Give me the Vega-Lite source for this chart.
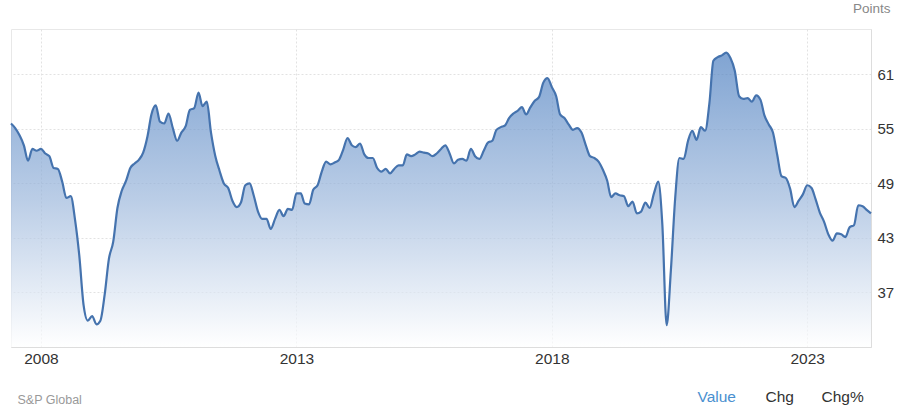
{
  "$schema": "https://vega.github.io/schema/vega-lite/v6.json",
  "width": 860,
  "height": 318,
  "autosize": "none",
  "padding": {"left": 11, "top": 29, "right": 29, "bottom": 64},
  "background": "white",
  "config": {
    "font": "Liberation Sans",
    "view": {"stroke": "#e8e8e8", "strokeWidth": 1}
  },
  "datasets": {
    "pmi": [
      {"date": "2007-06-01", "value": 55.6}, {"date": "2007-07-01", "value": 55.1}, {"date": "2007-08-01", "value": 54.3}, {"date": "2007-09-01", "value": 53.2}, {"date": "2007-10-01", "value": 51.5}, {"date": "2007-11-01", "value": 52.8}, {"date": "2007-12-01", "value": 52.6},
      {"date": "2008-01-01", "value": 52.8}, {"date": "2008-02-01", "value": 52.3}, {"date": "2008-03-01", "value": 52.0}, {"date": "2008-04-01", "value": 50.7}, {"date": "2008-05-01", "value": 50.6}, {"date": "2008-06-01", "value": 49.2}, {"date": "2008-07-01", "value": 47.4}, {"date": "2008-08-01", "value": 47.6}, {"date": "2008-09-01", "value": 45.0}, {"date": "2008-10-01", "value": 41.1}, {"date": "2008-11-01", "value": 35.6}, {"date": "2008-12-01", "value": 33.9},
      {"date": "2009-01-01", "value": 34.4}, {"date": "2009-02-01", "value": 33.5}, {"date": "2009-03-01", "value": 33.9}, {"date": "2009-04-01", "value": 36.8}, {"date": "2009-05-01", "value": 40.7}, {"date": "2009-06-01", "value": 42.6}, {"date": "2009-07-01", "value": 46.3}, {"date": "2009-08-01", "value": 48.2}, {"date": "2009-09-01", "value": 49.3}, {"date": "2009-10-01", "value": 50.7}, {"date": "2009-11-01", "value": 51.2}, {"date": "2009-12-01", "value": 51.6},
      {"date": "2010-01-01", "value": 52.4}, {"date": "2010-02-01", "value": 54.2}, {"date": "2010-03-01", "value": 56.6}, {"date": "2010-04-01", "value": 57.6}, {"date": "2010-05-01", "value": 55.8}, {"date": "2010-06-01", "value": 55.6}, {"date": "2010-07-01", "value": 56.7}, {"date": "2010-08-01", "value": 55.1}, {"date": "2010-09-01", "value": 53.7}, {"date": "2010-10-01", "value": 54.6}, {"date": "2010-11-01", "value": 55.3}, {"date": "2010-12-01", "value": 57.1},
      {"date": "2011-01-01", "value": 57.3}, {"date": "2011-02-01", "value": 59.0}, {"date": "2011-03-01", "value": 57.5}, {"date": "2011-04-01", "value": 58.0}, {"date": "2011-05-01", "value": 54.6}, {"date": "2011-06-01", "value": 52.0}, {"date": "2011-07-01", "value": 50.4}, {"date": "2011-08-01", "value": 49.0}, {"date": "2011-09-01", "value": 48.5}, {"date": "2011-10-01", "value": 47.1}, {"date": "2011-11-01", "value": 46.4}, {"date": "2011-12-01", "value": 46.9},
      {"date": "2012-01-01", "value": 48.8}, {"date": "2012-02-01", "value": 49.0}, {"date": "2012-03-01", "value": 47.7}, {"date": "2012-04-01", "value": 45.9}, {"date": "2012-05-01", "value": 45.1}, {"date": "2012-06-01", "value": 45.1}, {"date": "2012-07-01", "value": 44.0}, {"date": "2012-08-01", "value": 45.1}, {"date": "2012-09-01", "value": 46.1}, {"date": "2012-10-01", "value": 45.4}, {"date": "2012-11-01", "value": 46.2}, {"date": "2012-12-01", "value": 46.1},
      {"date": "2013-01-01", "value": 47.9}, {"date": "2013-02-01", "value": 47.9}, {"date": "2013-03-01", "value": 46.8}, {"date": "2013-04-01", "value": 46.7}, {"date": "2013-05-01", "value": 48.3}, {"date": "2013-06-01", "value": 48.8}, {"date": "2013-07-01", "value": 50.3}, {"date": "2013-08-01", "value": 51.4}, {"date": "2013-09-01", "value": 51.1}, {"date": "2013-10-01", "value": 51.3}, {"date": "2013-11-01", "value": 51.6}, {"date": "2013-12-01", "value": 52.7},
      {"date": "2014-01-01", "value": 54.0}, {"date": "2014-02-01", "value": 53.2}, {"date": "2014-03-01", "value": 53.0}, {"date": "2014-04-01", "value": 53.4}, {"date": "2014-05-01", "value": 52.2}, {"date": "2014-06-01", "value": 51.8}, {"date": "2014-07-01", "value": 51.8}, {"date": "2014-08-01", "value": 50.7}, {"date": "2014-09-01", "value": 50.3}, {"date": "2014-10-01", "value": 50.6}, {"date": "2014-11-01", "value": 50.1}, {"date": "2014-12-01", "value": 50.6},
      {"date": "2015-01-01", "value": 51.0}, {"date": "2015-02-01", "value": 51.0}, {"date": "2015-03-01", "value": 52.2}, {"date": "2015-04-01", "value": 52.0}, {"date": "2015-05-01", "value": 52.2}, {"date": "2015-06-01", "value": 52.5}, {"date": "2015-07-01", "value": 52.4}, {"date": "2015-08-01", "value": 52.3}, {"date": "2015-09-01", "value": 52.0}, {"date": "2015-10-01", "value": 52.3}, {"date": "2015-11-01", "value": 52.8}, {"date": "2015-12-01", "value": 53.2},
      {"date": "2016-01-01", "value": 52.3}, {"date": "2016-02-01", "value": 51.2}, {"date": "2016-03-01", "value": 51.6}, {"date": "2016-04-01", "value": 51.7}, {"date": "2016-05-01", "value": 51.5}, {"date": "2016-06-01", "value": 52.8}, {"date": "2016-07-01", "value": 52.0}, {"date": "2016-08-01", "value": 51.7}, {"date": "2016-09-01", "value": 52.6}, {"date": "2016-10-01", "value": 53.5}, {"date": "2016-11-01", "value": 53.7}, {"date": "2016-12-01", "value": 54.9},
      {"date": "2017-01-01", "value": 55.2}, {"date": "2017-02-01", "value": 55.4}, {"date": "2017-03-01", "value": 56.2}, {"date": "2017-04-01", "value": 56.7}, {"date": "2017-05-01", "value": 57.0}, {"date": "2017-06-01", "value": 57.4}, {"date": "2017-07-01", "value": 56.6}, {"date": "2017-08-01", "value": 57.4}, {"date": "2017-09-01", "value": 58.1}, {"date": "2017-10-01", "value": 58.5}, {"date": "2017-11-01", "value": 60.1}, {"date": "2017-12-01", "value": 60.6},
      {"date": "2018-01-01", "value": 59.6}, {"date": "2018-02-01", "value": 58.6}, {"date": "2018-03-01", "value": 56.6}, {"date": "2018-04-01", "value": 56.2}, {"date": "2018-05-01", "value": 55.5}, {"date": "2018-06-01", "value": 54.9}, {"date": "2018-07-01", "value": 55.1}, {"date": "2018-08-01", "value": 54.6}, {"date": "2018-09-01", "value": 53.2}, {"date": "2018-10-01", "value": 52.0}, {"date": "2018-11-01", "value": 51.8}, {"date": "2018-12-01", "value": 51.4},
      {"date": "2019-01-01", "value": 50.5}, {"date": "2019-02-01", "value": 49.3}, {"date": "2019-03-01", "value": 47.5}, {"date": "2019-04-01", "value": 47.9}, {"date": "2019-05-01", "value": 47.7}, {"date": "2019-06-01", "value": 47.6}, {"date": "2019-07-01", "value": 46.5}, {"date": "2019-08-01", "value": 47.0}, {"date": "2019-09-01", "value": 45.7}, {"date": "2019-10-01", "value": 45.9}, {"date": "2019-11-01", "value": 46.9}, {"date": "2019-12-01", "value": 46.3},
      {"date": "2020-01-01", "value": 47.9}, {"date": "2020-02-01", "value": 49.2}, {"date": "2020-03-01", "value": 44.5}, {"date": "2020-04-01", "value": 33.4}, {"date": "2020-05-01", "value": 39.4}, {"date": "2020-06-01", "value": 47.4}, {"date": "2020-07-01", "value": 51.8}, {"date": "2020-08-01", "value": 51.7}, {"date": "2020-09-01", "value": 53.7}, {"date": "2020-10-01", "value": 54.8}, {"date": "2020-11-01", "value": 53.8}, {"date": "2020-12-01", "value": 55.2},
      {"date": "2021-01-01", "value": 54.8}, {"date": "2021-02-01", "value": 57.9}, {"date": "2021-03-01", "value": 62.5}, {"date": "2021-04-01", "value": 62.9}, {"date": "2021-05-01", "value": 63.1}, {"date": "2021-06-01", "value": 63.4}, {"date": "2021-07-01", "value": 62.8}, {"date": "2021-08-01", "value": 61.4}, {"date": "2021-09-01", "value": 58.6}, {"date": "2021-10-01", "value": 58.3}, {"date": "2021-11-01", "value": 58.4}, {"date": "2021-12-01", "value": 58.0},
      {"date": "2022-01-01", "value": 58.7}, {"date": "2022-02-01", "value": 58.2}, {"date": "2022-03-01", "value": 56.5}, {"date": "2022-04-01", "value": 55.5}, {"date": "2022-05-01", "value": 54.6}, {"date": "2022-06-01", "value": 52.1}, {"date": "2022-07-01", "value": 49.8}, {"date": "2022-08-01", "value": 49.6}, {"date": "2022-09-01", "value": 48.4}, {"date": "2022-10-01", "value": 46.4}, {"date": "2022-11-01", "value": 47.1}, {"date": "2022-12-01", "value": 47.8},
      {"date": "2023-01-01", "value": 48.8}, {"date": "2023-02-01", "value": 48.5}, {"date": "2023-03-01", "value": 47.3}, {"date": "2023-04-01", "value": 45.8}, {"date": "2023-05-01", "value": 44.8}, {"date": "2023-06-01", "value": 43.4}, {"date": "2023-07-01", "value": 42.7}, {"date": "2023-08-01", "value": 43.5}, {"date": "2023-09-01", "value": 43.4}, {"date": "2023-10-01", "value": 43.1}, {"date": "2023-11-01", "value": 44.2}, {"date": "2023-12-01", "value": 44.4},
      {"date": "2024-01-01", "value": 46.6}, {"date": "2024-02-01", "value": 46.5}, {"date": "2024-03-01", "value": 46.1}, {"date": "2024-04-01", "value": 45.7}
    ],
    "activeTab": [
      {"tab": "Value"}
    ],
    "otherTabs": [
      {"other": "Chg"}, {"other": "Chg%"}
    ]
  },
  "layer": [
    {
      "data": {"name": "pmi"},
      "mark": {
        "type": "area",
        "interpolate": "monotone",
        "line": {"color": "#4573ae", "strokeWidth": 2.2},
        "color": {
          "gradient": "linear",
          "x1": 0, "y1": 0, "x2": 0, "y2": 1,
          "stops": [
            {"offset": 0, "color": "#4a7dbf"},
            {"offset": 0.5, "color": "#9db8dc"},
            {"offset": 1, "color": "#ffffff"}
          ]
        }
      },
      "encoding": {
        "x": {
          "field": "date",
          "type": "temporal",
          "scale": {
            "type": "utc",
            "domain": [
              {"year": 2007, "month": 6, "date": 1, "utc": true},
              {"year": 2024, "month": 4, "date": 1, "utc": true}
            ]
          },
          "axis": {
            "title": "S&P Global",
            "titleAnchor": "start",
            "titleAlign": "left",
            "titleBaseline": "alphabetic",
            "titleX": 6,
            "titleY": 56,
            "titleFontSize": 12.5,
            "titleFontWeight": "normal",
            "titleColor": "#999999",
            "values": [
              {"year": 2008, "month": 1, "date": 1, "utc": true},
              {"year": 2013, "month": 1, "date": 1, "utc": true},
              {"year": 2018, "month": 1, "date": 1, "utc": true},
              {"year": 2023, "month": 1, "date": 1, "utc": true}
            ],
            "format": "%Y",
            "labelFontSize": 15.5,
            "labelColor": "#333333",
            "labelPadding": 4,
            "ticks": false,
            "domainColor": "#dddddd",
            "grid": true,
            "gridColor": "#e2e2e2",
            "gridDash": [2, 2]
          }
        },
        "y": {
          "field": "value",
          "type": "quantitative",
          "scale": {"domain": [31, 66], "zero": false, "nice": false},
          "axis": {
            "orient": "right",
            "values": [37, 43, 49, 55, 61],
            "labelFontSize": 15,
            "labelColor": "#333333",
            "labelPadding": 6,
            "ticks": false,
            "domainColor": "#dddddd",
            "grid": true,
            "gridColor": "#e2e2e2",
            "gridDash": [2, 2],
            "title": "Points",
            "titleAngle": 0,
            "titleAlign": "right",
            "titleBaseline": "alphabetic",
            "titleX": 19,
            "titleY": -17,
            "titleFontSize": 13.5,
            "titleFontWeight": "normal",
            "titleColor": "#888888"
          }
        },
        "y2": {"datum": 31}
      }
    },
    {
      "data": {"name": "activeTab"},
      "mark": {"type": "point", "opacity": 0},
      "encoding": {
        "color": {
          "field": "tab",
          "type": "nominal",
          "scale": {"domain": ["Value"], "range": ["#4a90d0"]},
          "legend": {
            "title": null,
            "orient": "none",
            "direction": "horizontal",
            "legendX": 671,
            "legendY": 360,
            "symbolSize": 0,
            "symbolOpacity": 0,
            "symbolStrokeWidth": 0,
            "labelOffset": 0,
            "labelFontSize": 15.5,
            "labelBaseline": "middle",
            "labelColor": "#4a90d0",
            "labelLimit": 200
          }
        }
      }
    },
    {
      "data": {"name": "otherTabs"},
      "mark": {"type": "point", "opacity": 0},
      "encoding": {
        "shape": {
          "field": "other",
          "type": "nominal",
          "scale": {"domain": ["Chg", "Chg%"]},
          "legend": {
            "title": null,
            "orient": "none",
            "direction": "horizontal",
            "legendX": 739,
            "legendY": 360,
            "symbolSize": 0,
            "symbolOpacity": 0,
            "symbolStrokeWidth": 0,
            "labelOffset": 0,
            "columnPadding": 12,
            "labelFontSize": 15.5,
            "labelBaseline": "middle",
            "labelColor": "#333333",
            "labelLimit": 200
          }
        }
      }
    }
  ]
}
